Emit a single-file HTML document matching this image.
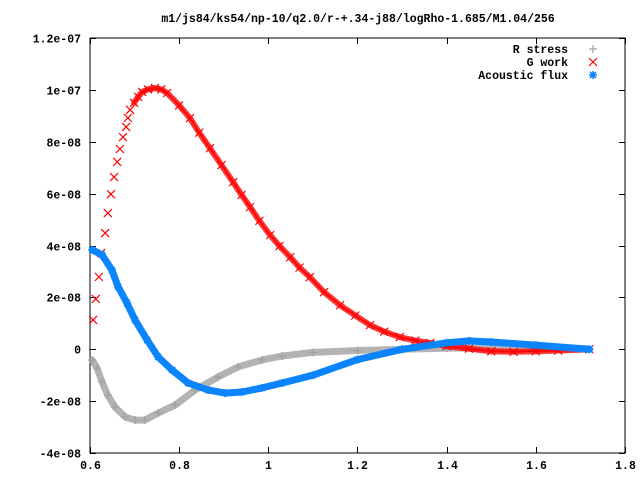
<!DOCTYPE html>
<html><head><meta charset="utf-8"><style>
body{margin:0;background:#fff}
svg{display:block}
text{font-family:"Liberation Mono",monospace;font-size:11.5px;font-weight:bold;fill:#000}
</style></head><body>
<svg id="chart" width="640" height="480" xmlns="http://www.w3.org/2000/svg"></svg>
<script>
const xTicks=[0.6,0.8,1,1.2,1.4,1.6,1.8];
const xTickLabels=["0.6","0.8","1","1.2","1.4","1.6","1.8"];
const yTicks=[12,10,8,6,4,2,0,-2,-4];
const yTickLabels=["1.2e-07","1e-07","8e-08","6e-08","4e-08","2e-08","0","-2e-08","-4e-08"];
const titleText="m1/js84/ks54/np-10/q2.0/r-+.34-j88/logRho-1.685/M1.04/256";
const seriesNames=["R stress","G work","Acoustic flux"];
// values in units of 1e-8
const rX=[0.605,0.616,0.627,0.64,0.656,0.679,0.701,0.723,0.753,0.791,0.836,0.887,0.932,0.986,1.031,1.1,1.2,1.3,1.4,1.5,1.6,1.72];
const rY=[-0.42,-0.73,-1.26,-1.77,-2.23,-2.61,-2.73,-2.73,-2.46,-2.15,-1.57,-1.07,-0.68,-0.41,-0.26,-0.12,-0.05,0,0.04,0.05,0.04,0];
const gX=[0.607,0.613,0.62,0.625,0.634,0.64,0.647,0.654,0.661,0.667,0.674,0.681,0.685,0.69,0.699,0.708,0.717,0.73,0.746,0.76,0.773,0.8,0.824,0.845,0.869,0.895,0.921,0.94,0.959,0.98,1.004,1.025,1.049,1.07,1.093,1.125,1.161,1.195,1.228,1.26,1.295,1.33,1.363,1.4,1.45,1.5,1.55,1.6,1.65,1.72];
const gY=[1.13,1.94,2.79,3.71,4.48,5.25,5.98,6.64,7.22,7.72,8.18,8.57,8.92,9.23,9.5,9.73,9.92,10.02,10.07,10.02,9.88,9.4,8.91,8.35,7.75,7.1,6.44,5.95,5.48,4.95,4.4,3.98,3.55,3.15,2.78,2.2,1.7,1.3,0.93,0.68,0.47,0.33,0.24,0.12,0.02,-0.08,-0.1,-0.08,-0.05,0];
const aX=[0.605,0.627,0.649,0.663,0.683,0.701,0.728,0.753,0.784,0.82,0.865,0.903,0.941,0.986,1.031,1.1,1.2,1.3,1.4,1.45,1.5,1.6,1.72];
const aY=[3.83,3.64,3.06,2.41,1.78,1.13,0.36,-0.3,-0.8,-1.3,-1.57,-1.69,-1.65,-1.49,-1.3,-1.0,-0.4,0,0.25,0.32,0.28,0.16,0];

const L=90,R=625,T=38,B=453;
const xS=v=>L+(v-0.6)/(1.8-0.6)*(R-L);
const yS=v=>B-(v+4)/16*(B-T);
const svg=document.getElementById('chart');
const NS="http://www.w3.org/2000/svg";
function mk(tag,attrs,parent){const e=document.createElementNS(NS,tag);for(const k in attrs)e.setAttribute(k,attrs[k]);(parent||svg).appendChild(e);return e;}

const t=mk('text',{x:358,y:22,'text-anchor':'middle'});


t.textContent=titleText;

const frame=mk('rect',{x:L,y:T,width:R-L,height:B-T,fill:'none',stroke:'#000','stroke-width':1,'shape-rendering':'crispEdges'});



yTicks.forEach((v,i)=>{
  const y=Math.round(yS(v))+0.5;
  mk('path',{d:`M${L} ${y}h6M${R} ${y}h-6`,stroke:'#000','shape-rendering':'crispEdges'});
  const lb=mk('text',{x:81,y:y+4,'text-anchor':'end'});
  
  
  lb.textContent=yTickLabels[i];
});
xTicks.forEach((v,i)=>{
  const x=Math.round(xS(v))+0.5;
  mk('path',{d:`M${x} ${B}v-6M${x} ${T}v6`,stroke:'#000','shape-rendering':'crispEdges'});
  const lb=mk('text',{x:x,y:469,'text-anchor':'middle'});
  
  
  lb.textContent=xTickLabels[i];
});

function plus(g,x,y,c){mk('path',{d:`M${x-4} ${y}h8M${x} ${y-4}v8`,stroke:c,'stroke-width':1.2,fill:'none'},g);}
function cross(g,x,y,c){mk('path',{d:`M${x-4} ${y-4}l8 8M${x-4} ${y+4}l8 -8`,stroke:c,'stroke-width':1.2,fill:'none'},g);}
function star(g,x,y,c){mk('path',{d:`M${x-4} ${y}h8M${x} ${y-4}v8M${x-3} ${y-3}l6 6M${x-3} ${y+3}l6 -6`,stroke:c,'stroke-width':1.6,fill:'none'},g);}
function band(g,xs,ys,c,w,dash,op){
  const d=xs.map((x,i)=>(i?'L':'M')+xS(x).toFixed(1)+' '+yS(ys[i]).toFixed(1)).join('');
  const a={d:d,stroke:c,'stroke-width':w,fill:'none','stroke-linejoin':'round','stroke-linecap':'round',opacity:op};
  if(dash)a['stroke-dasharray']=dash;
  mk('path',a,g);
}

const gR=mk('g',{});


band(gR,rX,rY,'#a0a0a0',7,'1 1.5',0.8);
rX.forEach((x,i)=>plus(gR,xS(x),yS(rY[i]),'#a0a0a0'));
const gG=mk('g',{});


band(gG,gX.slice(14),gY.slice(14),'#ff0000',6,'1 1.5',0.8);
band(gG,gX.slice(14),gY.slice(14),'#ff0000',1.5,null,1);
gX.forEach((x,i)=>cross(gG,xS(x),yS(gY[i]),'#ff0000'));
const gA=mk('g',{});


band(gA,aX,aY,'#0a84ff',7,null,1);
aX.forEach((x,i)=>star(gA,xS(x),yS(aY[i]),'#0a84ff'));

const lg=mk('g',{});


const fns=[plus,cross,star],cols=['#a0a0a0','#ff0000','#0a84ff'];
seriesNames.forEach((n,i)=>{
  const y=49+i*13;
  const e=mk('text',{x:568,y:y+4,'text-anchor':'end'},lg);
  
  
  e.textContent=n;
  fns[i](lg,593,y,cols[i]);
});
</script>
</body></html>
